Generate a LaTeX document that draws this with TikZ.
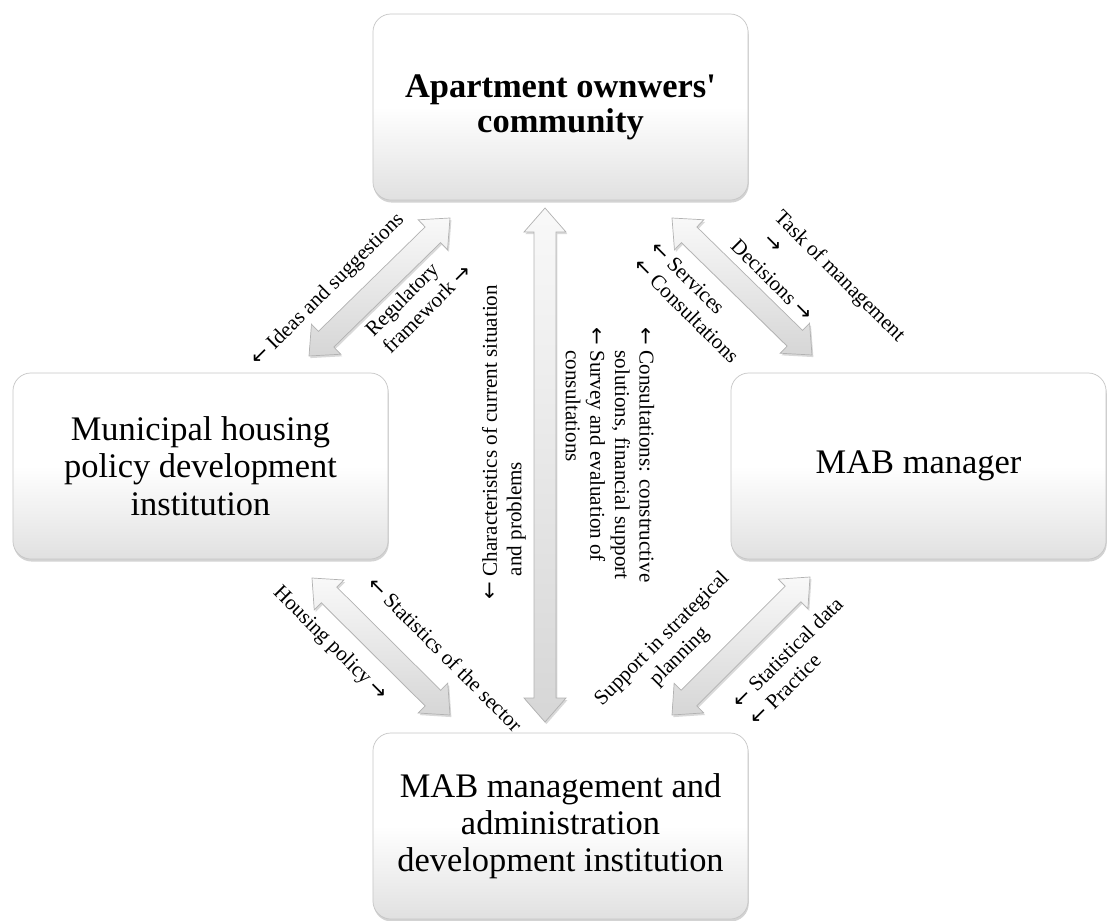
\documentclass[tikz,border=0pt]{standalone}
\usepackage{fontspec}
\setmainfont{Liberation Serif}
\newfontfamily\arrowfont{DejaVu Sans}
\usetikzlibrary{calc, shadows}
\newcommand{\widearrow}[2]{
   \path[wide arrow] (#1) -- ($(#1)!0.6cm!(#2)!0.525cm!90:(#2)$) -- ($(#1)!0.6cm!(#2)!0.275cm!90:(#2)$)
      -- ($(#2)!0.6cm!(#1)!0.275cm!-90:(#1)$) -- ($(#2)!0.6cm!(#1)!0.525cm!-90:(#1)$) -- (#2)
      -- ($(#2)!0.6cm!(#1)!0.525cm!90:(#1)$) -- ($(#2)!0.6cm!(#1)!0.275cm!90:(#1)$)
      -- ($(#1)!0.6cm!(#2)!0.275cm!-90:(#2)$) -- ($(#1)!0.6cm!(#2)!0.525cm!-90:(#2)$) -- cycle;
}
\newcommand{\la}{{\arrowfont ←}}
\newcommand{\ra}{{\arrowfont →}}
\tikzset{inst/.style = {draw=gray!45, line width=0.5pt, rounded corners=0.45cm, minimum width=9.375cm, minimum height=4.65cm, align=center,
   top color=white, bottom color=gray!24, middle color=white,
   drop shadow={shadow xshift=0.5pt, shadow yshift=-1.8pt, opacity=0.35}, font=\fontsize{24.5}{26.5}\selectfont}}
\tikzset{flow/.style = {inner sep=0pt, font=\fontsize{15}{17.5}\selectfont}}
\tikzset{wide arrow/.style = {draw=gray!60, line width=0.5pt, top color=gray!5, bottom color=gray!32,
   drop shadow={shadow xshift=1pt, shadow yshift=-1.5pt, opacity=0.3}}}

\begin{document}
\begin{tikzpicture}[x=0.025cm, y=-0.025cm]
		\useasboundingbox (0,0) rectangle (1107,921);

		% Boxes
		\node[inst, font=\fontsize{24.5}{25}\selectfont\bfseries] (community) at (560.5,107) {Apartment ownwers\textquotesingle\\community};
		\node[inst] (municipal) at (200.5,466) {Municipal housing\\policy development\\institution};
		\node[inst] (manager) at (918.5,466) {MAB manager};
		\node[inst] (institution) at (560.5,826) {MAB management and\\administration\\development institution};

		% Arrow ends
		\coordinate (cA) at (545,208);  \coordinate (cB) at (545,722);
		\coordinate (tlA) at (450,218); \coordinate (tlB) at (309,356);
		\coordinate (trA) at (672,218); \coordinate (trB) at (812,355);
		\coordinate (blA) at (312,578); \coordinate (blB) at (450,715);
		\coordinate (brA) at (810,577); \coordinate (brB) at (672,715);

		% Arrows
		\widearrow{cA}{cB}
		\widearrow{tlA}{tlB}
		\widearrow{trA}{trB}
		\widearrow{blA}{blB}
		\widearrow{brA}{brB}

		% Flows, top
		\node[flow, rotate=45] (ideas) at (328,290) {\la\ Ideas and suggestions};
		\node[flow, rotate=45, align=left] (regul) at (418,300) {Regulatory\\framework \ra};
		\node[flow, rotate=-45, align=left] (serv) at (695,302) {\la\ Services\\\la\ Consultations};
		\node[flow, rotate=-45] (decis) at (772,280) {Decisions \ra};
		\node[flow, rotate=-45, align=left] (task) at (832,284) {Task of management\\\hspace{0.4em}\ra};

		% Flows, middle
		\node[flow, rotate=90, align=left] (charac) at (504,442) {\la\ Characteristics of current situation\\\phantom{\la}\ and problems};
		\node[flow, rotate=-90, align=left] (consult) at (610,455) {\la\ Consultations: constructive\\\phantom{\la}\ solutions, financial support\\\la\ Survey and evaluation of\\\phantom{\la}\ consultations};

		% Flows, bottom
		\node[flow, rotate=-45] (hpol) at (330,644) {Housing policy \ra};
		\node[flow, rotate=-45] (stats) at (445,654) {\la\ Statistics of the sector};
		\node[flow, rotate=45, align=center] (supp) at (671,648) {Support in strategical\\planning};
		\node[flow, rotate=45, align=left] (statd) at (796,661) {\la\ Statistical data\\\la\ Practice};
	\end{tikzpicture}
\end{document}
